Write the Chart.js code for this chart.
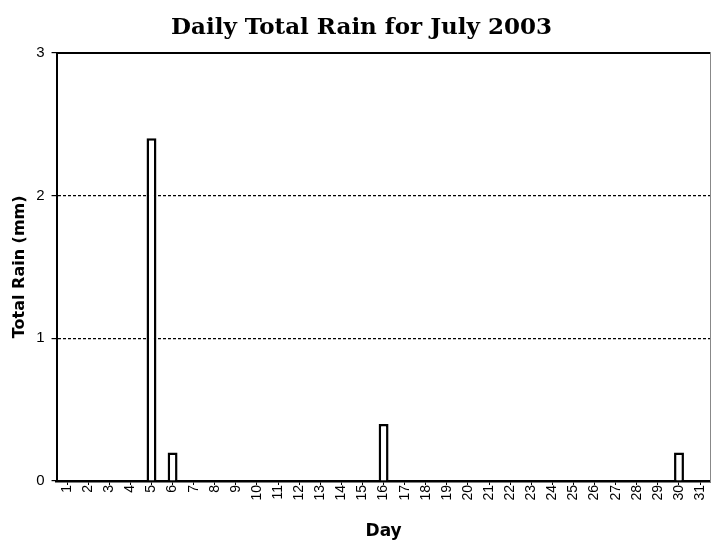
<!DOCTYPE html>
<html lang="en">
<head>
  <meta charset="UTF-8">
  <title>Daily Total Rain for July 2003</title>
  <style>
    body { margin: 0; background: #fff; }
    #wrap { width: 717px; height: 543px; }
  </style>
</head>
<body>
  <div id="wrap"><canvas id="rainChart" width="717" height="543"></canvas></div>
  <script src="https://cdn.jsdelivr.net/npm/chart.js@4"></script>
  <script>
    // ==== Data ====
    const days = ['1','2','3','4','5','6','7','8','9','10','11','12','13','14','15','16',
                  '17','18','19','20','21','22','23','24','25','26','27','28','29','30','31'];
    const rainMm = [0, 0, 0, 0, 2.4, 0.2, 0, 0, 0, 0, 0, 0, 0, 0, 0, 0.4,
                    0, 0, 0, 0, 0, 0, 0, 0, 0, 0, 0, 0, 0, 0.2, 0];
    const yTicks = [0, 1, 2, 3];

    new Chart(document.getElementById('rainChart'), {
      type: 'bar',
      data: {
        labels: days,
        datasets: [{
          label: 'Total Rain (mm)',
          data: rainMm,
          backgroundColor: '#fff',
          borderColor: '#000',
          borderWidth: 2.5,
          borderSkipped: 'bottom',
          barPercentage: 0.47,
          categoryPercentage: 1
        }]
      },
      options: {
        responsive: false,
        animation: false,
        layout: { padding: { left: 10, right: 4, top: 0, bottom: 1 } },
        plugins: {
          legend: { display: false },
          tooltip: { enabled: false },
          title: {
            display: true,
            text: 'Daily Total Rain for July 2003',
            color: '#000',
            font: { family: 'DejaVu Serif', size: 23, weight: 'bold' },
            padding: { top: 14, bottom: 3 }
          }
        },
        scales: {
          x: {
            offset: true,
            grid: { display: true, drawOnChartArea: false, offset: false, drawTicks: true, tickLength: 4, tickColor: '#000' },
            border: { display: true, color: '#000', width: 2.5 },
            ticks: {
              color: '#000',
              font: { family: 'Liberation Sans', size: 14 },
              maxRotation: 90, minRotation: 90, autoSkip: false, padding: 0
            },
            title: {
              display: true, text: 'Day', color: '#000',
              font: { family: 'DejaVu Sans', size: 17, weight: 'bold' },
              padding: { top: 21, bottom: 0 }
            }
          },
          xTop: {
            position: 'top',
            labels: days,
            offset: true,
            grid: { display: false },
            ticks: { display: false },
            border: { display: true, color: '#000', width: 2 }
          },
          y: {
            min: 0, max: 3,
            afterBuildTicks: axis => { axis.ticks = yTicks.map(v => ({ value: v })); },
            grid: {
              color: ctx => (ctx.tick && (ctx.tick.value === 0 || ctx.tick.value === 3)) ? 'rgba(0,0,0,0)' : '#000',
              lineWidth: 1.2,
              drawTicks: true, tickLength: 5, tickColor: '#000'
            },
            border: { display: true, color: '#000', width: 2, dash: [3, 2] },
            ticks: {
              color: '#000',
              font: { family: 'Liberation Sans', size: 15 },
              padding: 7
            },
            title: {
              display: true, text: 'Total Rain (mm)', color: '#000',
              font: { family: 'DejaVu Sans', size: 16, weight: 'bold' },
              padding: { top: 0, bottom: 0 }
            }
          },
          yRight: {
            position: 'right',
            min: 0, max: 3,
            afterFit: axis => { axis.width = 0; },
            grid: { display: false },
            ticks: { display: false },
            border: { display: true, color: '#888', width: 1 }
          }
        }
      }
    });
  </script>
</body>
</html>
